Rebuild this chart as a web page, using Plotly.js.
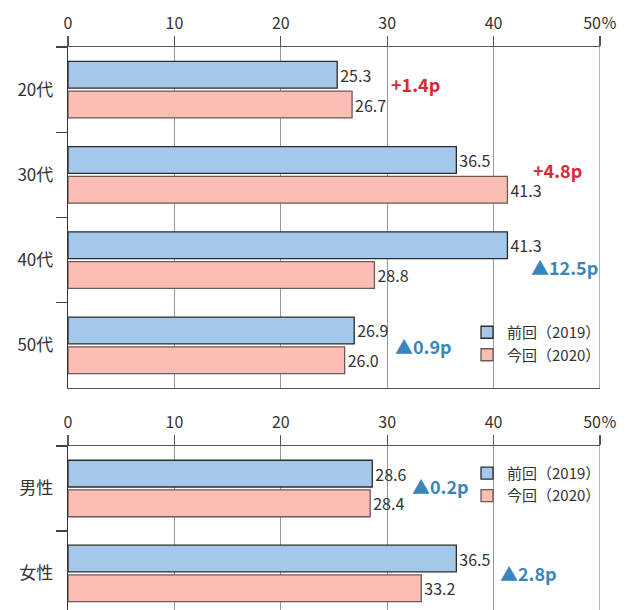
<!DOCTYPE html>
<html><head><meta charset="utf-8">
<script src="https://cdn.plot.ly/plotly-3.0.1.min.js"></script>
<style>html,body{margin:0;padding:0;background:#fff}</style>
</head><body><div id="chart" style="width:625px;height:610px"></div>
<script>
// ---- data ----
const ageCategories = ["20代", "30代", "40代", "50代"];
const agePrev = [25.3, 36.5, 41.3, 26.9];
const ageCurr = [26.7, 41.3, 28.8, 26.0];
const ageDiffText = ["+1.4p", "+4.8p", "▲12.5p", "▲0.9p"];

const genderCategories = ["男性", "女性"];
const genderPrev = [28.6, 36.5];
const genderCurr = [28.4, 33.2];
const genderDiffText = ["▲0.2p", "▲2.8p"];

const seriesNames = ["前回（2019）", "今回（2020）"];
const xTickVals = [0, 10, 20, 30, 40, 50];
const xTickText = ["0", "10", "20", "30", "40", "50％"];

// annotation placement (data units along x, pixel nudge in y)
const ageDiffX = [30.2, 43.5, 43.3, 30.5];
const ageDiffShift = [6, 5, -7, -1];
const genderDiffX = [32.1, 40.4];
const genderDiffShift = [2, 0];

// ---- style ----
const FONT = "Noto Sans CJK JP, Noto Sans, sans-serif";
const PREV_COLOR = "#a3c8ea", PREV_LINE = "#2b2b2b";
const CURR_COLOR = "#fbbdb4", CURR_LINE = "#6a5a58";
const RED = "#d42a36", BLUE = "#3886bb";
const TXT = "#333333";

function barTrace(name, cats, vals, fill, line, xa, ya, legend, showlegend) {
  return {
    type: "bar", orientation: "h", name: name,
    y: cats, x: vals, xaxis: xa, yaxis: ya,
    marker: {color: fill, line: {color: line, width: 1.3}},
    text: vals.map(v => v.toFixed(1)), textposition: "outside",
    textfont: {family: FONT, size: 16, color: TXT},
    constraintext: "none", cliponaxis: false,
    legend: legend, showlegend: showlegend, hoverinfo: "skip"
  };
}

const traces = [
  barTrace(seriesNames[0], ageCategories, agePrev, PREV_COLOR, PREV_LINE, "x", "y", "legend", true),
  barTrace(seriesNames[1], ageCategories, ageCurr, CURR_COLOR, CURR_LINE, "x", "y", "legend", true),
  barTrace(seriesNames[0], genderCategories, genderPrev, PREV_COLOR, PREV_LINE, "x2", "y2", "legend2", true),
  barTrace(seriesNames[1], genderCategories, genderCurr, CURR_COLOR, CURR_LINE, "x2", "y2", "legend2", true)
];

function diffAnn(text, x, y, shift, xref, yref) {
  return {
    text: text, x: x, y: y, xref: xref, yref: yref, yshift: shift,
    xanchor: "left", yanchor: "middle", showarrow: false,
    font: {family: FONT, size: 18, weight: "bold", color: text.charAt(0) === "+" ? RED : BLUE}
  };
}
const annotations = [];
ageDiffText.forEach((t, i) => annotations.push(diffAnn(t, ageDiffX[i], ageCategories[i], ageDiffShift[i], "x", "y")));
genderDiffText.forEach((t, i) => annotations.push(diffAnn(t, genderDiffX[i], genderCategories[i], genderDiffShift[i], "x2", "y2")));

function xAxis(anchor, mirror) {
  return {
    anchor: anchor, side: "top", range: [0, 50], fixedrange: true,
    tickmode: "array", tickvals: xTickVals, ticktext: xTickText,
    ticks: "outside", ticklen: 10, tickwidth: 1.3, tickcolor: "#555",
    tickfont: {family: FONT, size: 16, color: TXT},
    showline: true, linecolor: "#555", linewidth: 1.3, mirror: mirror,
    showgrid: true, gridcolor: "#999", gridwidth: 1.2,
    zeroline: false, automargin: false
  };
}
function yAxis(anchor, domain, range) {
  return {
    anchor: anchor, domain: domain, range: range, type: "category",
    tickson: "boundaries", ticks: "outside", ticklen: 11, tickwidth: 1.3, tickcolor: "#444",
    tickfont: {family: FONT, size: 17, color: TXT}, ticklabelstandoff: 10,
    showline: true, linecolor: "#333", linewidth: 1.3,
    showgrid: false, zeroline: false, automargin: false, fixedrange: true
  };
}

const H = 610;
const layout = {
  width: 625, height: 610,
  margin: {l: 68, r: 25, t: 0, b: 0},
  paper_bgcolor: "#fff", plot_bgcolor: "#fff",
  barmode: "group", bargap: 0.3, bargroupgap: 0.1,
  font: {family: FONT, color: TXT},
  xaxis: xAxis("y", true),
  yaxis: yAxis("x", [(H - 388) / H, (H - 47) / H], [3.5, -0.5]),
  xaxis2: xAxis("y2", false),
  yaxis2: yAxis("x2", [0, (H - 446) / H], [1.43, -0.5]),
  legend: {x: 0.75, y: 0.482, xanchor: "left", yanchor: "top", bgcolor: "rgba(0,0,0,0)",
           font: {family: FONT, size: 15, color: TXT}, tracegroupgap: 0, traceorder: "normal"},
  legend2: {x: 0.75, y: 0.251, xanchor: "left", yanchor: "top", bgcolor: "rgba(0,0,0,0)",
           font: {family: FONT, size: 15, color: TXT}, tracegroupgap: 0, traceorder: "normal"},
  shapes: [
    {type: "line", xref: "x", yref: "y domain", x0: 50, x1: 50, y0: 0, y1: 1, line: {color: "#888", width: 1.3}, layer: "below"},
    {type: "line", xref: "x2", yref: "y2 domain", x0: 50, x1: 50, y0: 0, y1: 1, line: {color: "#888", width: 1.3}, layer: "below"}
  ],
  annotations: annotations,
  showlegend: true
};

Plotly.newPlot("chart", traces, layout, {displayModeBar: false, staticPlot: true});
</script></body></html>
